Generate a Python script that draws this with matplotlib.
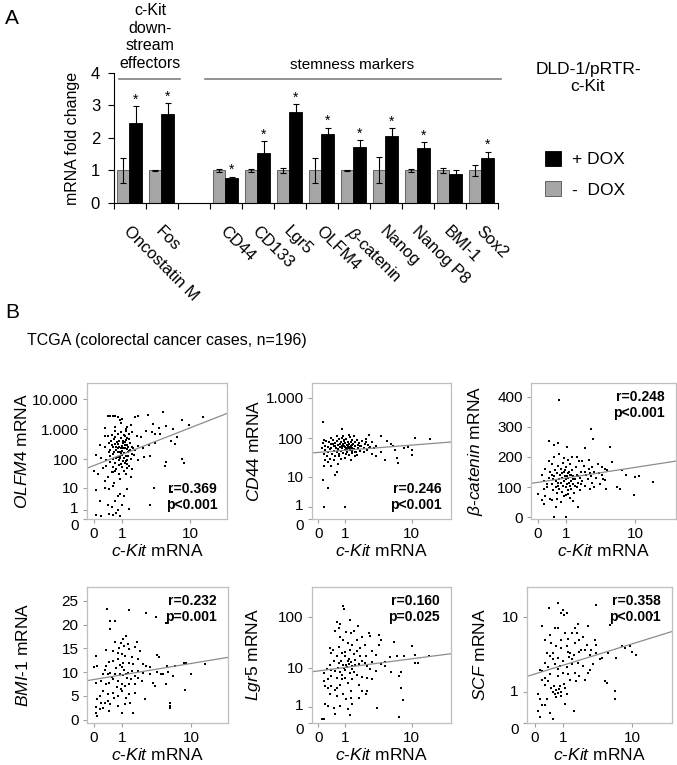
import numpy as np
import matplotlib
matplotlib.use('Agg')
import matplotlib.pyplot as plt
import matplotlib.transforms as mtransforms

plt.rcParams['font.family'] = ['Liberation Sans', 'DejaVu Sans']
plt.rcParams['mathtext.fontset'] = 'custom'
plt.rcParams['mathtext.rm'] = 'Liberation Sans'
plt.rcParams['mathtext.it'] = 'Liberation Sans:italic'
plt.rcParams['mathtext.bf'] = 'Liberation Sans:bold'

W, H = 677, 765

# ---------------- panel A data ----------------
genes = ['Oncostatin M', 'Fos', '', 'CD44', 'CD133', 'Lgr5', 'OLFM4',
         r'$\beta$-catenin', 'Nanog', 'Nanog P8', 'BMI-1', 'Sox2']
minus_dox = [1.0, 1.0, np.nan, 1.0, 1.0, 1.0, 1.0, 1.0, 1.0, 1.0, 1.0, 1.0]
minus_err = [0.38, 0.02, np.nan, 0.06, 0.04, 0.07, 0.38, 0.03, 0.4, 0.06, 0.07, 0.16]
plus_dox = [2.47, 2.74, np.nan, 0.77, 1.53, 2.8, 2.12, 1.73, 2.07, 1.70, 0.9, 1.38]
plus_err = [0.5, 0.34, np.nan, 0.04, 0.37, 0.25, 0.2, 0.21, 0.23, 0.17, 0.12, 0.2]
signif = [1, 1, 0, 1, 1, 1, 1, 1, 1, 1, 0, 1]

# ---------------- panel B data (c-Kit mRNA, gene mRNA) ----------------
olfm4_pts = [(0.4,2900),(0.5,2900),(0.6,2900),(0.7,2800),(0.8,2500),(1.0,2300),(1.8,2600),(2.0,2700),
    (2.8,3000),(4.6,3800),(8.0,2100),(14,2600),(0.9,2000),(0.95,1600),(1.3,1200),(1.5,1400),(9.6,1400),
    (5.0,1300),(4.0,1100),(3.3,1500),(6.2,1000),(0.7,1200),(1.2,1000),(0.3,1100),(0.3,620),(0.4,600),
    (0.55,650),(0.7,900),(0.8,700),(0.95,800),(1.1,650),(1.2,900),(1.4,700),(1.6,800),(1.9,620),(2.2,550),
    (3.2,800),(3.6,700),(4.2,700),(2.7,900),(7.0,550),(0.15,300),(0.3,250),(0.45,350),(0.5,200),(0.6,260),
    (0.7,320),(0.8,230),(0.85,420),(0.9,180),(1.0,280),(1.05,350),(1.15,240),(1.3,300),(1.4,190),(1.6,260),
    (1.8,200),(2.0,280),(2.4,240),(2.9,300),(3.6,350),(5.8,420),(6.5,320),(0.95,500),(1.2,450),(0.65,470),
    (0.05,140),(0.2,110),(0.35,90),(0.5,130),(0.6,100),(0.7,75),(0.8,120),(0.85,95),(0.95,70),(1.0,140),
    (1.1,110),(1.2,85),(1.35,130),(1.5,100),(1.7,140),(2.0,90),(2.5,120),(3.0,130),(5.0,80),(8.0,100),
    (8.5,75),(4.8,60),(0.0,40),(0.1,30),(0.25,50),(0.4,25),(0.55,35),(0.6,55),(0.75,45),(0.85,30),(0.9,20),
    (1.0,55),(1.1,40),(1.2,30),(1.3,50),(1.5,25),(0.3,18),(0.65,15),(0.05,8),(0.3,10),(0.45,9),(0.6,12),
    (0.8,5),(0.9,6),(1.1,5),(1.3,9),(3.5,10),(6.0,7),(0.15,3),(0.4,2),(0.55,1.5),(0.7,3),(0.8,1),(1.0,2),
    (1.4,1.2),(0.05,0.4),(0.2,0.3),(0.45,0.5),(0.6,0.4),(0.75,0.6),(0.9,0.3),(3.0,2),(5.5,3),
    (0.62,150),(0.72,200),(0.78,380),(0.88,260),(0.92,130),(1.02,190),(1.08,420),(1.12,160),(1.18,300),
    (1.25,220),(1.32,170),(1.45,350),(1.55,150),(1.65,230),(0.68,550),(0.82,170),(1.38,480),(1.05,85),
    (0.75,110),(1.22,130),(0.58,300),(0.98,240),(1.15,600),(1.28,90),(0.88,65),(1.42,60),(0.5,80),
    (0.7,40),(1.25,70),(1.6,45),(0.52,400),(0.66,180),(0.84,330),(1.06,230),(1.16,380),(1.36,260),
    (0.74,260),(0.96,160),(1.26,520),(0.46,170),(1.48,200),(0.9,110),(1.14,75),(0.62,35),(0.35,60)]

cd44_pts = [(0.1,55),(0.12,75),(0.15,40),(0.18,65),(0.2,50),(0.22,85),(0.25,35),(0.28,60),(0.3,45),
    (0.32,80),(0.35,30),(0.38,70),(0.4,55),(0.42,40),(0.45,90),(0.48,62),(0.5,48),(0.52,75),(0.55,35),
    (0.58,58),(0.6,85),(0.62,45),(0.65,68),(0.68,52),(0.7,95),(0.72,40),(0.75,60),(0.78,78),(0.8,48),
    (0.82,100),(0.85,55),(0.88,70),(0.9,42),(0.92,88),(0.95,62),(0.98,50),(1.0,75),(1.02,58),(1.05,95),
    (1.08,45),(1.1,68),(1.12,82),(1.15,55),(1.18,38),(1.2,72),(1.22,60),(1.25,105),(1.28,50),(1.3,78),
    (1.32,65),(1.35,42),(1.38,88),(1.4,58),(1.45,70),(1.5,52),(1.55,80),(1.6,62),(1.65,45),(1.7,92),
    (1.75,68),(1.8,55),(1.85,75),(1.9,48),(2.0,65),(2.1,85),(2.2,58),(2.3,72),(2.5,50),(2.6,68),(2.8,60),
    (3.0,78),(0.3,25),(0.5,28),(0.8,30),(1.0,32),(1.3,28),(1.6,35),(0.6,110),(1.2,120),(1.5,110),
    (0.9,115),(2.4,95),(0.15,90),(0.4,100),(0.7,35),(1.05,40),(0.55,65),(0.95,85),(1.15,65),(1.4,48),
    (0.35,52),(0.75,72),(1.25,58),(0.65,50),(0.85,62),(1.1,52),(1.35,68),(0.45,72),(1.0,60),(0.2,28),
    (3.2,55),(2.2,45),(1.9,62),(1.7,38),(0.13,250),(0.15,19),(0.14,8.5),(0.3,4.8),(0.55,11),(0.15,1),
    (1.0,1),(0.85,170),(0.6,14),(0.4,20),(0.65,22),(16.5,95),(11,98),(10,50),(10,37),(6.5,32),(6.8,24),
    (8,58),(5.8,62),(4.8,85),(4,110),(3.4,62),(3,40),(4,45),(5.4,70),(6.2,50),(2.4,80),(2.7,120),
    (1.9,62),(1.6,45),(3.4,35),(4.5,28),(2.7,55),(9,60)]

bcat_pts = [(0.1,140),(0.15,120),(0.2,160),(0.25,100),(0.3,130),(0.35,150),(0.4,110),(0.42,175),
    (0.45,90),(0.5,135),(0.52,155),(0.55,120),(0.58,80),(0.6,145),(0.62,105),(0.65,170),(0.68,125),
    (0.7,95),(0.72,140),(0.75,115),(0.78,160),(0.8,85),(0.82,130),(0.85,105),(0.88,150),(0.9,120),
    (0.92,70),(0.95,135),(0.98,100),(1.0,165),(1.02,125),(1.05,110),(1.08,145),(1.1,90),(1.12,130),
    (1.15,115),(1.18,175),(1.2,105),(1.22,140),(1.25,120),(1.28,95),(1.3,155),(1.35,110),(1.4,135),
    (1.45,80),(1.5,125),(1.55,165),(1.6,100),(1.65,140),(1.7,115),(1.75,185),(1.8,130),(1.85,90),
    (1.9,150),(2.0,120),(2.1,170),(2.2,105),(2.3,140),(2.4,125),(2.5,160),(2.6,95),(2.7,135),(2.8,115),
    (3.0,150),(3.2,130),(3.4,175),(3.6,110),(3.8,140),(4.0,125),(4.2,160),(0.2,70),(0.35,60),(0.5,200),
    (0.7,210),(0.9,195),(1.1,190),(1.3,200),(0.6,60),(1.0,75),(1.2,65),(0.3,185),(0.85,180),(1.6,200),
    (2.0,185),(2.5,190),(1.4,55),(0.75,50),(1.15,150),(0.95,155),(0.55,100),(1.05,135),(0.65,115),
    (1.25,140),(0.8,145),(1.5,105),(0.45,125),(1.7,135),(2.2,150),(0.4,140),(1.9,110),(3.0,100),
    (2.8,165),(0.25,110),(1.35,125),(0.15,95),(2.6,145),(0.7,390),(2.7,292),(2.9,258),(0.3,252),
    (0.5,241),(0.65,245),(1.05,233),(4.9,233),(2.2,228),(5.2,183),(6.9,156),(7.7,139),(10,134),(11,136),
    (16,117),(9.7,73),(6.5,95),(6,100),(4.5,156),(3.8,167),(4.2,123),(4.4,95),(3.5,145),(0,78),(0.1,56),
    (0.15,45),(0.4,56),(0.55,34),(1.08,78),(1.67,34),(0.5,1),(1.0,1)]

bmi1_pts = [(0.38,23.2),(1.4,23),(2.6,22.4),(3.6,21.5),(5,20.4),(0.5,20.8),(0.68,20.8),(0.5,19),
    (1.2,17.6),(1.05,16.9),(0.68,16.4),(0.95,16.2),(1.9,16.4),(0.05,13.4),(0.35,14.6),(0.6,14.5),
    (0.8,14.1),(0.98,13.8),(1.15,13.4),(1.35,14.8),(1.55,13.1),(1.75,15.2),(1.95,12.7),(2.1,14.5),
    (3.7,13.6),(4,13.2),(6.5,11.3),(8.2,12),(8.8,12),(14.5,11.7),(5.1,11.3),(2.35,11.7),(2.6,11.3),
    (3,11),(3.7,10.1),(4.5,9.7),(5.2,10.1),(6,9.2),(10,9.6),(0.25,9.6),(0.4,9.7),(0.5,9.9),(0.68,9.6),
    (0.9,9.7),(1.05,9.4),(1.2,9.6),(1.3,9.9),(1.55,10.3),(1.75,9.2),(0,11),(0.08,11.3),(0.05,7.8),
    (0.2,8.2),(0.35,7.5),(0.45,7.8),(0.6,8.5),(0.8,8.2),(1.0,7.5),(1.15,7.1),(1.35,7.5),(1.75,7.5),
    (2.25,8.2),(3.3,7.8),(3.5,7.1),(5,7.5),(8.5,6.2),(5.6,3.6),(5.5,2.9),(5.6,2.4),(0.25,6.1),(0.4,5.4),
    (0.6,5.7),(0.8,5),(1,6.1),(1.35,5.4),(1.75,5.7),(2.5,4.3),(1.45,3.6),(0.08,4.3),(0.2,3.6),(0.3,3.6),
    (0.4,4),(0.5,3.3),(0.05,2.6),(0.15,2.2),(0.25,2.4),(0.05,1.5),(0.08,0.8),(1,1.5),(1.65,1.5),
    (0.45,1.9),(0.8,2.9),(1.15,3.3),(0.6,12.4),(0.8,12.7),(1.05,12),(1.35,12),(1,11),(0.35,11.3),
    (1.95,10.3),(2.35,9.9),(3,9.6),(4.2,9.6),(0.7,10.8),(0.9,11.5),(1.1,10.5),(1.25,8.8),(0.55,8.9),
    (0.75,6.8),(0.95,6.5),(1.5,8.5),(1.6,11.8),(0.45,12.2),(1.1,15.5),(0.85,15),(1.3,16),(0.3,10.5),
    (2.0,8.8),(0.65,4.6),(0.15,5),(1.2,4.5)]

lgr5_pts = [(0.9,158),(0.95,140),(0.6,80),(0.75,71),(1.25,85),(1.8,65),(1.5,53),(1.3,48),(0.75,40),
    (0.9,35),(1.15,31),(1.05,50),(1.9,25),(2.7,48),(2.8,43),(3.7,45),(4,36),(3.7,29),(5.9,33),(10,27),
    (11,18),(16,17),(11,12.5),(12,12.5),(8,17),(6.5,17),(5.3,16.5),(4.5,11),(5.5,8),(7.4,8),(7,6.8),
    (7.4,3.5),(7.8,1.7),(7,0.3),(3.5,0.9),(2.5,3),(2.1,3),(1.85,4.3),(0.15,7.7),(0.25,9.5),(0.35,11.5),
    (0.2,4),(0.3,3.6),(0.4,4),(0.55,3.1),(0.6,3.6),(0.75,4.3),(0.85,5.6),(0.2,1.3),(0.3,1.1),(0.5,0.9),
    (0.75,1.1),(1.15,0.8),(1.25,0.4),(0.55,0.5),(0.1,0.2),(0.15,0.2),(1.05,1.8),(1.3,2),(1.4,1.3),
    (1.85,2),(2.4,2.5),(1.3,3),(0.9,2.5),(0.6,2.2),(0.35,2.5),(0.4,20),(0.6,17),(0.85,20),(1,17),
    (1.15,14),(1.3,13),(0.7,12.5),(0.9,11.5),(1.05,11.5),(1.2,12),(1.4,11),(1.6,11.5),(1.85,12),
    (2.1,14),(2.4,17),(1.5,19),(1.7,22),(1.9,17),(2.3,12.5),(2.5,11),(3,13),(2.8,9.3),(0.4,9),(0.55,8.5),
    (0.75,8.2),(1,8.8),(1.25,7.7),(1.5,8.2),(1.7,7),(2.1,6.5),(2.5,6),(3,5.6),(3.4,8.5),(4,11.7),(4.5,13),
    (1,6.1),(1.15,4.7),(1.4,5.6),(0.6,6.1),(0.4,6.8),(0.3,5.6),(0.15,5.2),(0.35,25),(0.45,23),(0.7,26),
    (1.25,23),(1.4,29),(2.3,29),(3,22),(3.4,18),(1.7,36),(2.1,40),(0.55,53),(0.7,61),(0.8,14),(0.95,9.8),
    (1.1,10.5),(1.2,15),(0.65,10),(0.5,13.5),(1.35,9.5),(0.85,7),(1.6,14.5),(1.0,21)]

scf_pts = [(0.77,14),(0.4,12.3),(3.5,13.3),(1,11.6),(1.2,11),(0.9,10.9),(1.05,10.5),(17,10.5),(0.63,7.5),
    (0.77,7.5),(1.67,7.5),(1.9,8.3),(2.73,7.9),(5.4,8.1),(0.2,7.8),(0.45,6.3),(1.1,6.6),(1.5,6.6),(2.3,5.9),
    (3.4,5.5),(3.5,4.8),(0.28,5.5),(0.5,5),(0.7,4.6),(0.92,4.4),(1.2,4.6),(1.27,4),(1.4,3.8),(1.6,3.6),
    (2,4),(2.4,4.2),(2.9,3.6),(3.5,3.8),(4.2,3.3),(5,3.8),(6.4,3.3),(7.6,4.6),(8.3,4.4),(9.5,4.6),(10,4),
    (11,3.6),(0.55,3.2),(0.77,3.3),(1,3),(0.45,3.5),(0.28,2.9),(0.13,2.3),(0.2,2.2),(0.39,2.5),(0.63,2.8),
    (0.85,2.6),(1.2,2.5),(1.5,2.8),(1.9,2.9),(2.3,2.6),(2.9,2.3),(3.2,2.8),(4.65,1.55),(4.9,1.45),
    (6.2,1.05),(6.2,0.7),(1.6,0.3),(0.18,1.65),(0.28,1.35),(0.39,1.55),(0.5,1.2),(0.55,1),(0.7,1.1),
    (0.77,0.96),(0.63,0.9),(0.92,1),(1.1,1.2),(0.85,1.28),(1.2,0.9),(0.08,0.9),(0.13,0.7),(0.18,0.5),
    (0.28,0.5),(0.08,0.3),(0.13,0.15),(0.55,0.1),(0.45,0.25),(0.33,0.7),(1.1,0.55),(1.75,1.55),(2,1.85),
    (2.4,1.65),(2.73,2.1),(1.4,1.65),(1.67,2.1),(1.27,2),(1,2.1),(0.77,1.85),(0.45,2),(0.28,1.75),
    (0.92,5.5),(1.27,5.7),(1.67,5.1),(2,5.5),(2.6,4.8),(1.8,6.6),(2.15,4.2),(3,4.2),(4,3.2),(1.5,3.2),
    (0.33,3.8),(0.55,3.8),(0.7,0.8),(0.8,1.15),(0.6,1.3),(0.9,0.85),(1.05,1.4),(0.75,2.4),(1.3,3.4)]

# regression lines (intercept, slope) in plotted units
fits = {'olfm4': (1.79, 1.21), 'cd44': (1.65, 0.174), 'bcat': (115.6, 47.6),
        'bmi1': (8.45, 3.23), 'lgr5': (0.98, 0.219), 'scf': (0.48, 0.282)}
stats = {'olfm4': 'r=0.369\np<0.001', 'cd44': 'r=0.246\np<0.001', 'bcat': 'r=0.248\np<0.001',
         'bmi1': 'r=0.232\np=0.001', 'lgr5': 'r=0.160\np=0.025', 'scf': 'r=0.358\np<0.001'}


def fwd(v):
    return np.log10(np.maximum(v, -0.99) + 1)


def inv(t):
    return 10 ** t - 1


fig = plt.figure(figsize=(W / 100, H / 100), dpi=100)

# ================= panel A =================
axA = fig.add_axes([114 / W, 1 - 203 / H, 384 / W, 130 / H])
x = np.arange(len(genes))
mask = ~np.isnan(np.array(minus_dox))
ekw = dict(ecolor='black', elinewidth=0.8, capsize=2.5, capthick=0.8)
b_minus = axA.bar(x[mask] + 0.28, np.array(minus_dox)[mask], 0.4, yerr=np.array(minus_err)[mask],
                  color='#a6a6a6', edgecolor='#505050', linewidth=0.6, error_kw=ekw)
b_plus = axA.bar(x[mask] + 0.68, np.array(plus_dox)[mask], 0.4, yerr=np.array(plus_err)[mask],
                 color='black', edgecolor='black', linewidth=0.6, error_kw=ekw)
for i in range(len(genes)):
    if signif[i]:
        axA.text(i + 0.68, plus_dox[i] + plus_err[i] + 0.2, '*', ha='center', va='center', fontsize=10)
    if genes[i]:
        axA.text(i + 0.55, -0.62, genes[i], rotation=-45, rotation_mode='anchor',
                 ha='left', va='top', fontsize=12)
axA.set_xlim(0, 12)
axA.set_ylim(0, 4)
axA.set_xticks(np.arange(13))
axA.set_xticklabels([])
axA.set_yticks([0, 1, 2, 3, 4])
axA.tick_params(axis='both', direction='out', length=4, width=0.8, labelsize=12)
axA.tick_params(axis='y', pad=6)
for s in ['top', 'right']:
    axA.spines[s].set_visible(False)
axA.set_ylabel('mRNA fold change', fontsize=11.5, labelpad=8)
# brackets above groups
axA.plot([0.16, 2.06], [3.82, 3.82], color='#7f7f7f', lw=1.2, clip_on=False)
axA.plot([2.84, 12.1], [3.82, 3.82], color='#7f7f7f', lw=1.2, clip_on=False)

fig.text(150 / W, 1 - 37 / H, 'c-Kit\ndown-\nstream\neffectors', ha='center', va='center',
         fontsize=11.5, linespacing=1.22)
fig.text(352 / W, 1 - 65 / H, 'stemness markers', ha='center', va='center', fontsize=11)
fig.text(588 / W, 1 - 78 / H, 'DLD-1/pRTR-\nc-Kit', ha='center', va='center', fontsize=12.5,
         linespacing=1.15)
fig.text(5 / W, 1 - 18 / H, 'A', ha='left', va='center', fontsize=15)
fig.text(5 / W, 1 - 312 / H, 'B', ha='left', va='center', fontsize=15)
fig.legend([b_plus, b_minus], ['+ DOX', '-  DOX'], loc='upper left',
           bbox_to_anchor=(545 / W, 1 - 151 / H), frameon=False, fontsize=12.5,
           handlelength=0.95, handleheight=0.95, labelspacing=0.8, borderpad=0, borderaxespad=0,
           handletextpad=0.6)
fig.text(27 / W, 1 - 340 / H, 'TCGA (colorectal cancer cases, n=196)', ha='left', va='center',
         fontsize=11.5)

# ================= panel B =================
panels = [
    ('olfm4', olfm4_pts, [87, 383, 227, 519], True, (0, 4.55), [0, 1, 10, 100, 1000, 10000],
     ['0', '1', '10', '100', '1.000', '10.000'], r'$\mathit{OLFM4}$ mRNA', (-0.076, 1.44), 'bottom', -0.41),
    ('cd44', cd44_pts, [312, 383, 451, 519], True, (0, 3.37), [0, 1, 10, 100, 1000],
     ['0', '1', '10', '100', '1.000'], r'$\mathit{CD44}$ mRNA', (-0.07, 1.48), 'bottom', -0.36),
    ('bcat', bcat_pts, [531, 383, 676, 519], False, (-6, 445), [0, 100, 200, 300, 400],
     ['0', '100', '200', '300', '400'], r'$\beta$-$\mathit{catenin}$ mRNA', (-0.075, 1.48), 'top', -0.32),
    ('bmi1', bmi1_pts, [87, 587, 228, 723], False, (-0.7, 27.9), [0, 5, 10, 15, 20, 25],
     ['0', '5', '10', '15', '20', '25'], r'$\mathit{BMI}$-$\mathit{1}$ mRNA', (-0.076, 1.44), 'top', -0.40),
    ('lgr5', lgr5_pts, [312, 587, 451, 723], True, (0, 2.56), [0, 1, 10, 100],
     ['0', '1', '10', '100'], r'$\mathit{Lgr5}$ mRNA', (-0.07, 1.48), 'top', -0.35),
    ('scf', scf_pts, [527, 587, 672, 723], True, (0, 1.33), [0, 1, 10],
     ['0', '1', '10'], r'$\mathit{SCF}$ mRNA', (-0.086, 1.47), 'top', -0.27),
]

for key, pts, box, ylog, ylim, yt, ytl, ylab, xlim_t, spos, ylab_x in panels:
    l, t, r, b = box
    ax = fig.add_axes([l / W, 1 - b / H, (r - l) / W, (b - t) / H])
    ax.set_xscale('function', functions=(fwd, inv))
    if ylog:
        ax.set_yscale('function', functions=(fwd, inv))
    arr = np.array(pts, dtype=float)
    ax.scatter(arr[:, 0], arr[:, 1], s=3.5, c='black', marker='s', linewidths=0)
    a, k = fits[key]
    xs_t = np.array(xlim_t)
    ys_t = a + k * xs_t
    ax.plot(inv(xs_t), inv(ys_t) if ylog else ys_t, color='#8c8c8c', lw=0.9)
    ax.set_xlim(inv(xlim_t[0]), inv(xlim_t[1]))
    if ylog:
        ax.set_ylim(inv(ylim[0]), inv(ylim[1]))
    else:
        ax.set_ylim(ylim)
    ax.set_xticks([0, 1, 10])
    ax.set_xticklabels(['0', '1', '10'])
    ax.set_yticks(yt)
    ax.set_yticklabels(ytl)
    ax.minorticks_off()
    ax.tick_params(axis='both', direction='out', length=3, width=0.8, color='#a0a0a0',
                   labelsize=11, pad=3)
    if ylog:
        # keep the "0" and "1" labels apart, as in the reference
        down = mtransforms.ScaledTranslation(0, -4 / 72, fig.dpi_scale_trans)
        up = mtransforms.ScaledTranslation(0, 1.5 / 72, fig.dpi_scale_trans)
        tl = ax.get_yticklabels()
        tl[0].set_transform(tl[0].get_transform() + down)
        tl[1].set_transform(tl[1].get_transform() + up)
    for s in ax.spines.values():
        s.set_color('#bfbfbf')
        s.set_linewidth(0.9)
    ax.set_xlabel(r'$\mathit{c}$-$\mathit{Kit}$ mRNA', fontsize=12.5)
    ax.xaxis.set_label_coords(0.5, -0.175)
    ax.set_ylabel(ylab, fontsize=12.5)
    ax.yaxis.set_label_coords(ylab_x, 0.5)
    if spos == 'bottom':
        ax.text(0.93, 0.05, stats[key], transform=ax.transAxes, ha='right', va='bottom',
                fontsize=10, fontweight='bold', multialignment='right', linespacing=1.2)
    else:
        ax.text(0.92, 0.95, stats[key], transform=ax.transAxes, ha='right', va='top',
                fontsize=10, fontweight='bold', multialignment='right', linespacing=1.2)

fig.savefig('out.png', dpi=100)
